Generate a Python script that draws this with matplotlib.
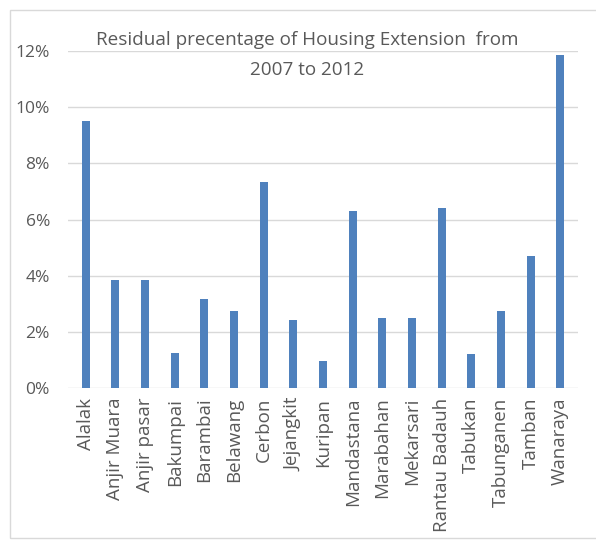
import matplotlib.pyplot as plt
from matplotlib.patches import Rectangle
from matplotlib.ticker import PercentFormatter

plt.rcParams['font.family'] = ['Open Sans', 'DejaVu Sans']

# residual percentage per area
areas = ['Alalak', 'Anjir Muara', 'Anjir pasar', 'Bakumpai', 'Barambai', 'Belawang',
         'Cerbon', 'Jejangkit', 'Kuripan', 'Mandastana', 'Marabahan', 'Mekarsari',
         'Rantau Badauh', 'Tabukan', 'Tabunganen', 'Tamban', 'Wanaraya']
residual = [9.5, 3.85, 3.85, 1.25, 3.17, 2.75, 7.33, 2.42, 0.96, 6.3, 2.5, 2.5,
            6.4, 1.22, 2.75, 4.7, 11.85]
yticks = [0, 2, 4, 6, 8, 10, 12]

text_col = '#595959'
bar_col = '#4F81BD'

fig = plt.figure(figsize=(5.96, 5.42), dpi=100)
fig.patches.append(Rectangle((10 / 596, 0.008), 0.99, 1 - 10 / 542 - 0.008,
                             transform=fig.transFigure, fill=False,
                             edgecolor='#d9d9d9', linewidth=1))
ax = fig.add_axes([68 / 596, 1 - 388 / 542, 510 / 596, 337 / 542])

x = range(len(areas))
ax.bar(x, residual, width=0.27, color=bar_col, zorder=3)

ax.set_ylim(0, 12)
ax.set_xlim(-0.6, len(areas) - 0.4)
ax.set_yticks(yticks)
ax.yaxis.set_major_formatter(PercentFormatter(decimals=0))
ax.set_xticks(list(x))
ax.set_xticklabels(areas, rotation=90, fontsize=13.5, color=text_col)
ax.tick_params(axis='y', labelsize=12.5, colors=text_col, length=0, pad=13)
ax.tick_params(axis='x', length=0, pad=7)
ax.grid(axis='y', color='#d9d9d9', linewidth=1, zorder=0)
for s in ax.spines.values():
    s.set_visible(False)

fig.text(307 / 596, 1 - 40 / 542, 'Residual precentage of Housing Extension  from',
         ha='center', va='center', fontsize=13.6, color=text_col)
fig.text(307 / 596, 1 - 70 / 542, '2007 to 2012',
         ha='center', va='center', fontsize=13.6, color=text_col)

fig.savefig('out.png', dpi=100)
